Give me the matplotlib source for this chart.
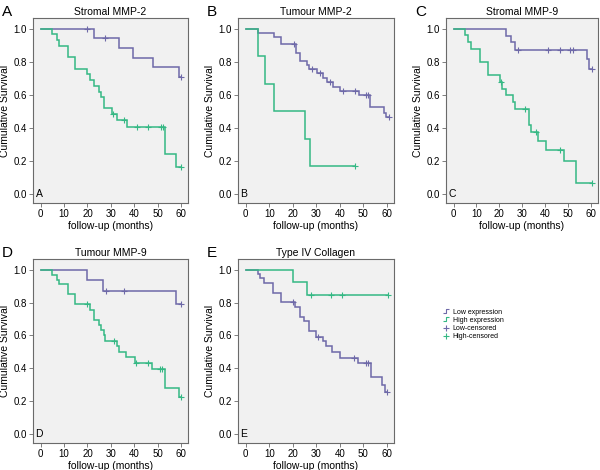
import numpy as np
import matplotlib
matplotlib.use("Agg")
import matplotlib.pyplot as plt
from matplotlib.lines import Line2D
from matplotlib.path import Path

plt.rcParams['font.family'] = ['Liberation Sans', 'DejaVu Sans']

# ---------------- data ----------------
titles = ["Stromal MMP-2", "Tumour MMP-2", "Stromal MMP-9", "Tumour MMP-9", "Type IV Collagen"]
letters = ["A", "B", "C", "D", "E"]

# Panel A
a_low_t = [23, 33.6, 39.6, 48, 59]
a_low_s = [0.945, 0.885, 0.825, 0.767, 0.71]
a_low_c = [20, 27.6, 59.8]
a_high_t = [5, 6.8, 7.8, 11.8, 14.8, 20, 21, 23, 25, 26, 27, 30.5, 32.5, 36.8, 53, 58]
a_high_s = [0.966, 0.93, 0.897, 0.827, 0.758, 0.724, 0.69, 0.655, 0.62, 0.585, 0.52, 0.483, 0.445, 0.405, 0.243, 0.163]
a_high_c = [31, 35.8, 41, 46, 51.6, 52.5, 59.8]

# Panel B
b_low_t = [5, 12.2, 14.8, 21.3, 23, 26, 27, 30.2, 32.8, 34.5, 37, 39.9, 48.2, 53, 58.7, 59.4]
b_low_s = [0.976, 0.952, 0.907, 0.855, 0.806, 0.778, 0.756, 0.73, 0.70, 0.675, 0.645, 0.625, 0.597, 0.528, 0.488, 0.464]
b_low_c = [20.3, 28.2, 31.5, 36, 41.2, 46.6, 51.2, 52.1, 60.9]
b_high_t = [5, 8.2, 12.2, 25.2, 27.3]
b_high_s = [0.833, 0.667, 0.5, 0.333, 0.167]
b_high_c = [46.5]

# Panel C
c_low_t = [22.8, 25.1, 27, 58.1, 59.1]
c_low_s = [0.958, 0.917, 0.87, 0.815, 0.754]
c_low_c = [28.2, 41.3, 46.5, 51, 51.9, 60.5]
c_high_t = [4.8, 6.5, 7.7, 11.7, 14.9, 20.1, 21, 22.8, 26, 26.9, 32.8, 33.8, 36.7, 40.3, 48, 53.3]
c_high_s = [0.96, 0.92, 0.88, 0.80, 0.72, 0.68, 0.638, 0.597, 0.555, 0.512, 0.42, 0.373, 0.323, 0.265, 0.198, 0.066]
c_high_c = [20.5, 31.2, 35.8, 46.5, 60.3]

# Panel D
d_low_t = [20, 26.8, 57.7]
d_low_s = [0.935, 0.869, 0.79]
d_low_c = [27.9, 35.6, 60]
d_high_t = [5, 6.8, 7.8, 11.8, 14.8, 21, 23, 25, 26, 27, 27.6, 32.5, 33.5, 36.5, 40.3, 47.7, 53, 59]
d_high_s = [0.968, 0.94, 0.911, 0.853, 0.79, 0.756, 0.695, 0.665, 0.632, 0.6, 0.568, 0.533, 0.5, 0.469, 0.434, 0.394, 0.277, 0.226]
d_high_c = [20, 31.2, 40.7, 45.7, 51.1, 52, 59.8]

# Panel E
e_low_t = [5, 6, 7.6, 11.7, 14.8, 20.9, 22.9, 24.9, 26.8, 30, 33, 34, 36.8, 40, 47.9, 53.1, 58, 59]
e_low_s = [0.976, 0.948, 0.919, 0.86, 0.802, 0.772, 0.715, 0.685, 0.624, 0.592, 0.564, 0.533, 0.50, 0.465, 0.43, 0.345, 0.30, 0.258]
e_low_c = [19.9, 30.9, 46.2, 51.1, 52, 60.1]
e_high_t = [19.9, 26.2]
e_high_s = [0.923, 0.846]
e_high_c = [27.9, 36.1, 41, 60.3]

panels = [
    (a_low_t, a_low_s, a_low_c, a_high_t, a_high_s, a_high_c),
    (b_low_t, b_low_s, b_low_c, b_high_t, b_high_s, b_high_c),
    (c_low_t, c_low_s, c_low_c, c_high_t, c_high_s, c_high_c),
    (d_low_t, d_low_s, d_low_c, d_high_t, d_high_s, d_high_c),
    (e_low_t, e_low_s, e_low_c, e_high_t, e_high_s, e_high_c),
]

legend_labels = ["Low expression", "High expression", "Low-censored", "High-censored"]

# ---------------- style ----------------
LOW = "#6e69a8"
HIGH = "#35b884"
BG = "#f1f1f1"
FRAME = "#6a6a6a"

fig = plt.figure(figsize=(6.0, 4.7), dpi=100)

# axes positions in pixels (left, top, right, bottom)
boxes = [
    (33, 18, 188, 203),
    (238, 18, 394, 203),
    (446, 18, 598, 203),
    (33, 259, 188, 443),
    (238, 259, 394, 443),
]
W, H = 600, 470


def draw_curve(ax, t, s, c, color):
    t = list(t); s = list(s)
    end = max(t[-1] if t else 0, max(c) if c else 0)
    xs = [0] + t + [end]
    ys = [1.0] + s + [s[-1] if s else 1.0]
    ax.step(xs, ys, where='post', color=color, lw=1.1, solid_joinstyle='miter')
    # survival at censor times
    tt = np.array([0] + t)
    ss = np.array([1.0] + s)
    idx = np.searchsorted(tt, np.array(c), side='right') - 1
    ax.plot(c, ss[idx], linestyle='none', marker='+', ms=4, mew=0.8, color=color)


for i, (box, data) in enumerate(zip(boxes, panels)):
    l, t_, r, b = box
    ax = fig.add_axes([l / W, 1 - b / H, (r - l) / W, (b - t_) / H])
    ax.set_facecolor(BG)
    lt, ls, lc, ht, hs, hc = data
    draw_curve(ax, lt, ls, lc, LOW)
    draw_curve(ax, ht, hs, hc, HIGH)
    ax.set_xlim(-3.3, 63)
    ax.set_ylim(-0.055, 1.065)
    ax.set_xticks([0, 10, 20, 30, 40, 50, 60])
    ax.set_yticks([0.0, 0.2, 0.4, 0.6, 0.8, 1.0])
    ax.set_yticklabels(["0.0", "0.2", "0.4", "0.6", "0.8", "1.0"])
    ax.tick_params(labelsize=7, length=3, width=0.6, color=FRAME, pad=1.5)
    for sp in ax.spines.values():
        sp.set_color(FRAME)
        sp.set_linewidth(0.8)
    ax.set_xlabel("follow-up (months)", fontsize=7.5, labelpad=1)
    ax.set_ylabel("Cumulative Survival", fontsize=7.5, labelpad=2)
    ax.set_title(titles[i], fontsize=7.5, pad=2)
    ax.text(-2.2, 0.0, letters[i], fontsize=7.5, va='center', ha='left')
    fig.text((l - 33) / W + 2 / W, 1 - (t_ - 6) / H, letters[i], fontsize=11,
             va='center', ha='left')

# legend
step_marker = Path([(-1, -0.6), (0, -0.6), (0, 0.6), (1, 0.6)],
                   [Path.MOVETO, Path.LINETO, Path.LINETO, Path.LINETO])
handles = [
    Line2D([], [], linestyle='none', marker=step_marker, ms=5, mew=0.8,
           mfc='none', mec=LOW),
    Line2D([], [], linestyle='none', marker=step_marker, ms=5, mew=0.8,
           mfc='none', mec=HIGH),
    Line2D([], [], linestyle='none', marker='+', ms=4.5, mew=0.8, color=LOW),
    Line2D([], [], linestyle='none', marker='+', ms=4.5, mew=0.8, color=HIGH),
]
fig.legend(handles, legend_labels, loc='upper left',
           bbox_to_anchor=(438 / W, 1 - 304 / H), frameon=False,
           fontsize=5.0, handlelength=1.0, handletextpad=0.4,
           labelspacing=0.15, borderpad=0.2)

fig.savefig("out.png", dpi=100)
